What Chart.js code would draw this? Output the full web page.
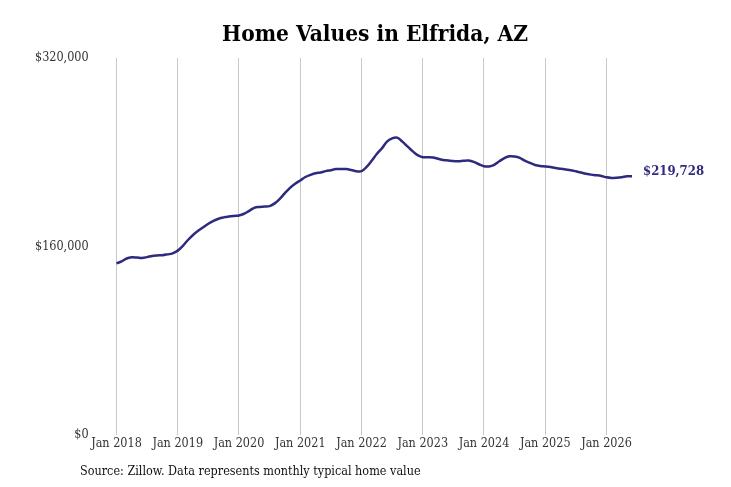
<!DOCTYPE html>
<html>
<head>
<meta charset="utf-8">
<script src="https://cdn.jsdelivr.net/npm/chart.js@4"></script>
<style>
  html, body { margin: 0; padding: 0; background: #fff; }
  #wrap { width: 731px; height: 487px; }
</style>
</head>
<body>
<div id="wrap"><canvas id="chart"></canvas></div>
<script>
// Monthly typical home value, Jan 2018 onward
const yearLabels = ["Jan 2018", "Jan 2019", "Jan 2020", "Jan 2021", "Jan 2022", "Jan 2023", "Jan 2024", "Jan 2025", "Jan 2026"];
const homeValues = [
  145700, 147300, 149800, 150800, 150600, 150300, 151000, 152000, 152400, 152600, 153300, 154200,
  156500, 160500, 165500, 169800, 173300, 176300, 179300, 181800, 183600, 184700, 185400, 185900,
  186300, 187800, 190300, 192800, 193600, 193900, 194300, 196600, 200500, 205300, 209800, 213300,
  216000, 219000, 220800, 222200, 222800, 224000, 224800, 225700, 225800, 225700, 224900, 223900,
  223900, 227500, 232800, 238500, 243300, 249000, 251800, 252400, 249000, 245000, 241000, 237500,
  235800, 235800, 235600, 234500, 233400, 233000, 232600, 232300, 232800, 232900, 231800, 229800,
  228200, 228000, 229300, 232300, 235000, 236600, 236400, 235300, 232800, 231000, 229200, 228300,
  228000, 227500, 226600, 226000, 225400, 224800, 223800, 222800, 221800, 221000, 220500, 219800,
  218700, 218200, 218300, 218800, 219600, 219728
];
const yTicks = [0, 160000, 320000];

const FONT = "'DejaVu Serif Condensed', 'DejaVu Serif', serif";
const LINE_COLOR = "#2e2a7e";

const points = homeValues.map((v, i) => ({ x: i, y: v }));

// title, label at the end of the line, source note
const annotate = {
  id: "annotate",
  afterDraw(chart) {
    const ctx = chart.ctx;
    const meta = chart.getDatasetMeta(0);
    const last = meta.data[meta.data.length - 1];
    const value = homeValues[homeValues.length - 1];
    ctx.save();
    ctx.textBaseline = "middle";

    ctx.font = "bold 22.5px " + FONT;
    ctx.fillStyle = "#000";
    ctx.textAlign = "center";
    ctx.fillText("Home Values in Elfrida, AZ", 375, 35);

    ctx.font = "bold 13px " + FONT;
    ctx.fillStyle = LINE_COLOR;
    ctx.textAlign = "left";
    ctx.fillText("$" + value.toLocaleString("en-US"), last.x + 11, last.y - 5);

    ctx.font = "12.5px " + FONT;
    ctx.fillStyle = "#111";
    ctx.fillText("Source: Zillow. Data represents monthly typical home value", 80, 472);
    ctx.restore();
  }
};

new Chart(document.getElementById("chart"), {
  type: "line",
  data: {
    datasets: [{
      data: points,
      borderColor: LINE_COLOR,
      borderWidth: 2.5,
      pointRadius: 0,
      tension: 0.4,
      fill: false
    }]
  },
  options: {
    responsive: true,
    maintainAspectRatio: false,
    animation: false,
    layout: { padding: { top: 58, right: 99, bottom: 35, left: 31 } },
    plugins: {
      legend: { display: false },
      tooltip: { enabled: false },
      title: { display: false }
    },
    scales: {
      x: {
        type: "linear",
        min: -3.1,
        max: homeValues.length - 1,
        afterBuildTicks(scale) {
          scale.ticks = yearLabels.map((_, i) => ({ value: i * 12 }));
        },
        border: { display: false },
        grid: { color: "#c8c8c8", lineWidth: 1, drawTicks: false },
        ticks: {
          color: "#333",
          font: { family: FONT, size: 12.5 },
          padding: 1,
          maxRotation: 0,
          autoSkip: false,
          callback: (v) => yearLabels[Math.round(v / 12)]
        }
      },
      y: {
        min: 0,
        max: 320000,
        afterBuildTicks(scale) {
          scale.ticks = yTicks.map(v => ({ value: v }));
        },
        border: { display: false },
        grid: { display: false },
        ticks: {
          color: "#333",
          font: { family: FONT, size: 12.5 },
          padding: 4,
          callback: (v) => "$" + v.toLocaleString("en-US")
        }
      }
    }
  },
  plugins: [annotate]
});
</script>
</body>
</html>
